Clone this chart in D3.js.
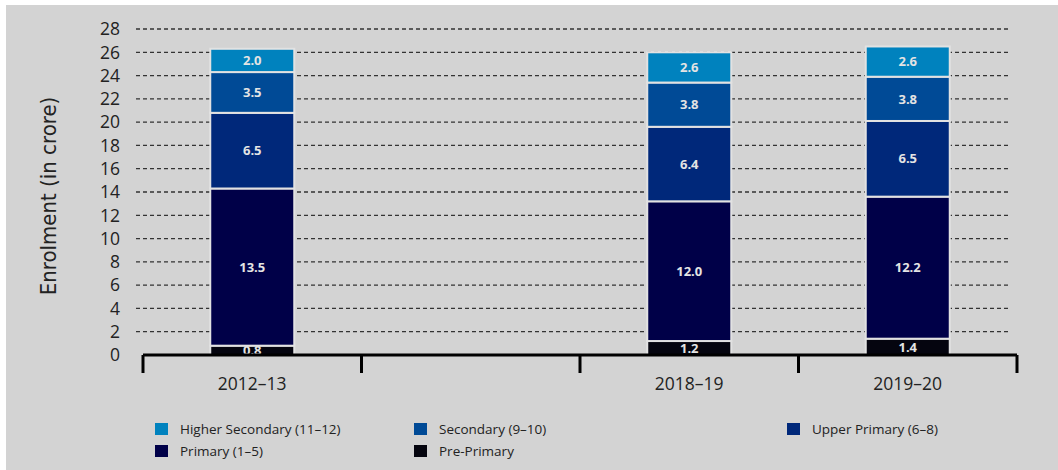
<!DOCTYPE html>
<html>
<head>
<meta charset="utf-8">
<script src="https://cdn.jsdelivr.net/npm/d3@7"></script>
<style>
  body { margin: 0; background: #fff; }
  svg { display: block; font-family: "Open Sans", "DejaVu Sans", sans-serif; }
</style>
</head>
<body>
<div id="chart"></div>
<script>
// data
var years = ["2012-13", "", "2018-19", "2019-20"];
var yearLabels = ["2012–13", "", "2018–19", "2019–20"];
var prePrimary = [0.8, null, 1.2, 1.4];
var primary = [13.5, null, 12.0, 12.2];
var upperPrimary = [6.5, null, 6.4, 6.5];
var secondary = [3.5, null, 3.8, 3.8];
var higherSecondary = [2.0, null, 2.6, 2.6];
var seriesNames = ["Pre-Primary", "Primary (1–5)", "Upper Primary (6–8)", "Secondary (9–10)", "Higher Secondary (11–12)"];
var colors = ["#05050f", "#000048", "#00287a", "#004a96", "#0082be"];
var yTicks = [0, 2, 4, 6, 8, 10, 12, 14, 16, 18, 20, 22, 24, 26, 28];

var width = 1058, height = 470;

var svg = d3.select("#chart")
  .append("svg")
    .attr("width", width)
    .attr("height", height);

// grey panel
svg.append("rect")
  .attr("x", 6).attr("y", 5)
  .attr("width", width - 6).attr("height", height - 5)
  .style("fill", "#d3d3d3");

var x = d3.scaleBand()
  .domain(years)
  .range([143, 1017]);

var y = d3.scaleLinear()
  .domain([0, 28])
  .range([355, 29]);

var barW = 84;

// grid lines
svg.append("g")
  .selectAll("line")
  .data(yTicks.filter(function(d) { return d > 0; }))
  .enter().append("line")
    .attr("x1", 136).attr("x2", 1010)
    .attr("y1", function(d) { return y(d); })
    .attr("y2", function(d) { return y(d); })
    .style("stroke", "#333")
    .style("stroke-width", 1.3)
    .style("stroke-dasharray", "4,3");

// y tick labels
svg.append("g")
  .selectAll("text")
  .data(yTicks)
  .enter().append("text")
    .attr("x", 120)
    .attr("y", function(d) { return y(d); })
    .attr("dy", "0.36em")
    .style("text-anchor", "end")
    .style("font-size", "17.5px")
    .style("fill", "#222")
    .text(function(d) { return d; });

// y title
svg.append("text")
  .attr("transform", "translate(56,196) rotate(-90)")
  .style("text-anchor", "middle")
  .style("font-family", "'DejaVu Sans Condensed', 'Liberation Sans Narrow', sans-serif")
  .style("font-size", "22px")
  .style("fill", "#222")
  .text("Enrolment (in crore)");

// stack
var rows = years.map(function(yr, i) {
  return {year: yr, s0: prePrimary[i], s1: primary[i], s2: upperPrimary[i], s3: secondary[i], s4: higherSecondary[i]};
}).filter(function(d) { return d.s0 != null; });

var stack = d3.stack().keys(["s0", "s1", "s2", "s3", "s4"]);
var layers = stack(rows);

var layer = svg.append("g")
  .selectAll("g")
  .data(layers)
  .enter().append("g")
    .style("fill", function(d, i) { return colors[i]; });

layer.selectAll("rect")
  .data(function(d) { return d; })
  .enter().append("rect")
    .attr("x", function(d) { return x(d.data.year) + x.bandwidth() / 2 - barW / 2; })
    .attr("y", function(d) { return y(d[1]); })
    .attr("width", barW)
    .attr("height", function(d) { return y(d[0]) - y(d[1]); })
    .style("stroke", "#e2e2e2")
    .style("stroke-width", 2);

layer.selectAll("text")
  .data(function(d) { return d; })
  .enter().append("text")
    .attr("x", function(d) { return x(d.data.year) + x.bandwidth() / 2; })
    .attr("y", function(d) { return (y(d[0]) + y(d[1])) / 2; })
    .attr("dy", "0.36em")
    .style("text-anchor", "middle")
    .style("font-size", "13px")
    .style("font-weight", "bold")
    .style("fill", "#e4e4e4")
    .text(function(d) { return (d[1] - d[0]).toFixed(1); });

// x axis
var axisY = 355;
svg.append("line")
  .attr("x1", 143).attr("x2", 1017)
  .attr("y1", axisY).attr("y2", axisY)
  .style("stroke", "#000")
  .style("stroke-width", 3);

var xEdges = years.map(function(d) { return x(d); }).concat([x.range()[1]]);
svg.append("g")
  .selectAll("line")
  .data(xEdges)
  .enter().append("line")
    .attr("x1", function(d) { return d; })
    .attr("x2", function(d) { return d; })
    .attr("y1", axisY).attr("y2", axisY + 18)
    .style("stroke", "#000")
    .style("stroke-width", 3);

svg.append("g")
  .selectAll("text")
  .data(years)
  .enter().append("text")
    .attr("x", function(d) { return x(d) + x.bandwidth() / 2; })
    .attr("y", 390)
    .style("text-anchor", "middle")
    .style("font-size", "17.5px")
    .style("fill", "#222")
    .text(function(d, i) { return yearLabels[i]; });

// legend
var legendItems = [
  {name: seriesNames[4], color: colors[4], lx: 155, ly: 429},
  {name: seriesNames[3], color: colors[3], lx: 414, ly: 429},
  {name: seriesNames[2], color: colors[2], lx: 787, ly: 429},
  {name: seriesNames[1], color: colors[1], lx: 155, ly: 451},
  {name: seriesNames[0], color: colors[0], lx: 414, ly: 451}
];

var legend = svg.append("g")
  .selectAll("g")
  .data(legendItems)
  .enter().append("g")
    .attr("transform", function(d) { return "translate(" + d.lx + "," + d.ly + ")"; });

legend.append("rect")
  .attr("x", 0).attr("y", -6)
  .attr("width", 13).attr("height", 12)
  .style("fill", function(d) { return d.color; });

legend.append("text")
  .attr("x", 25)
  .attr("dy", "0.35em")
  .style("font-size", "13.5px")
  .style("fill", "#222")
  .text(function(d) { return d.name; });
</script>
</body>
</html>
